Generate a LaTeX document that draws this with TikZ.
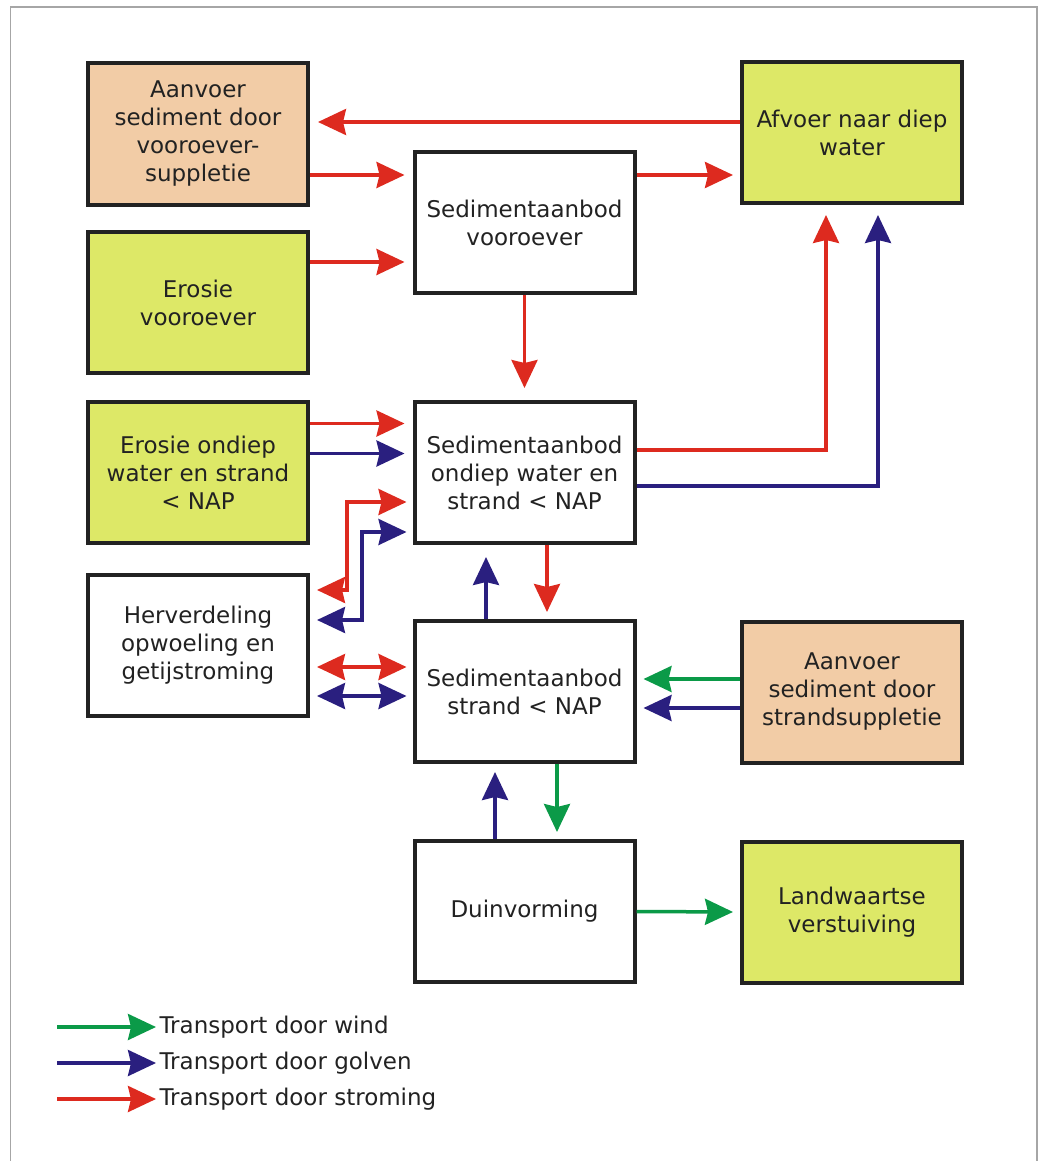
\documentclass[tikz,border=0pt]{standalone}
\usepackage{fontspec}
\setmainfont{DejaVu Sans}
\usetikzlibrary{arrows.meta}
\definecolor{rood}{HTML}{DD2A1F}
\definecolor{blauw}{HTML}{2A1F7F}
\definecolor{groen}{HTML}{0B9A48}
\definecolor{limoen}{HTML}{DDE867}
\definecolor{zalm}{HTML}{F2CCA6}
\definecolor{tekst}{HTML}{222222}
\tikzstyle{bag} = [draw=tekst, line width=4pt, minimum width=220pt, minimum height=141pt, align=center, text=tekst, font=\fontsize{23}{28}\selectfont]
\tikzstyle{nat} = [bag, fill=limoen]
\tikzstyle{aanv} = [bag, fill=zalm]
\tikzstyle{leg} = [anchor=west, text=tekst, font=\fontsize{23}{28}\selectfont]
\tikzstyle{wind} = [draw=groen, line width=3.5pt]
\tikzstyle{golven} = [draw=blauw, line width=3.5pt]
\tikzstyle{stroming} = [draw=rood, line width=3.5pt]

\begin{document}
\begin{tikzpicture}[x=1pt, y=-1pt, >={Stealth[length=28pt,width=26pt,inset=3pt]}]
  \useasboundingbox (0,0) rectangle (1040,1161);
  \draw [black!35, line width=1.5pt] (10.5,1161) -- (10.5,7) -- (1037,7) -- (1037,1161);

  \node (a) at (198,134) [aanv] {Aanvoer\\sediment door\\vooroever-\\suppletie};
  \node (b) at (852,132.5) [nat] {Afvoer naar diep\\water};
  \node (c) at (524.5,222.5) [bag] {Sedimentaanbod\\vooroever};
  \node (d) at (198,302.5) [nat] {Erosie\\vooroever};
  \node (e) at (198,472.5) [nat] {Erosie ondiep\\water en strand\\< NAP};
  \node (f) at (524.5,472.5) [bag] {Sedimentaanbod\\ondiep water en\\strand < NAP};
  \node (g) at (198,645.5) [bag] {Herverdeling\\opwoeling en\\getijstroming};
  \node (h) at (524.5,691.5) [bag] {Sedimentaanbod\\strand < NAP};
  \node (i) at (852,692) [aanv] {Aanvoer\\sediment door\\strandsuppletie};
  \node (j) at (524.5,911.5) [bag] {Duinvorming};
  \node (k) at (852,912) [nat] {Landwaartse\\verstuiving};

  \draw [stroming, ->, shorten >=8pt] ([yshift=10.5pt]b.west) -- ([yshift=10.5pt]b.west -| a.east);
  \draw [stroming, ->, shorten >=8pt] ([yshift=-41pt]a.east) -- ([yshift=-41pt]a.east -| c.west);
  \draw [stroming, ->, shorten >=7pt] ([yshift=47.5pt]c.east) -- ([yshift=47.5pt]c.east -| b.west);
  \draw [stroming, ->, shorten >=8pt] ([yshift=40.5pt]d.east) -- ([yshift=40.5pt]d.east -| c.west);
  \draw [stroming, ->, shorten >=12pt] (c.south) -- (f.north);
  \draw [stroming, ->, shorten >=8pt] ([yshift=49pt]e.east) -- ([yshift=49pt]e.east -| f.west);
  \draw [golven, ->, shorten >=8pt] ([yshift=19pt]e.east) -- ([yshift=19pt]e.east -| f.west);
  \draw [stroming, ->, shorten >=10pt] ([yshift=22.5pt]f.east) -| ([xshift=-26pt]b.south);
  \draw [golven, ->, shorten >=10pt] ([yshift=-13.5pt]f.east) -| ([xshift=26pt]b.south);
  \draw [stroming, <->, shorten <=6pt, shorten >=7pt] ([yshift=-29.5pt]f.west) -| ([xshift=37pt,yshift=55.5pt]g.east) -- ([yshift=55.5pt]g.east);
  \draw [golven, <->, shorten <=6pt, shorten >=7pt] ([yshift=-59.5pt]f.west) -| ([xshift=52pt,yshift=25.5pt]g.east) -- ([yshift=25.5pt]g.east);
  \draw [stroming, <->, shorten <=7pt, shorten >=6pt] ([yshift=-21.5pt]g.east) -- ([yshift=-21.5pt]g.east -| h.west);
  \draw [golven, <->, shorten <=7pt, shorten >=6pt] ([yshift=-50.5pt]g.east) -- ([yshift=-50.5pt]g.east -| h.west);
  \draw [golven, ->, shorten >=12pt] ([xshift=-38.5pt]h.north) -- ([xshift=-38.5pt]h.north |- f.south);
  \draw [stroming, ->, shorten >=7pt] ([xshift=22.5pt]f.south) -- ([xshift=22.5pt]f.south |- h.north);
  \draw [wind, ->, shorten >=7pt] ([yshift=13pt]i.west) -- ([yshift=13pt]i.west -| h.east);
  \draw [golven, ->, shorten >=7pt] ([yshift=-16pt]i.west) -- ([yshift=-16pt]i.west -| h.east);
  \draw [golven, ->, shorten >=8pt] ([xshift=-29.5pt]j.north) -- ([xshift=-29.5pt]j.north |- h.south);
  \draw [wind, ->, shorten >=7pt] ([xshift=32.5pt]h.south) -- ([xshift=32.5pt]h.south |- j.north);
  \draw [wind, ->, shorten >=7pt] (j.east) -- (k.west);

  \node (l1) at (156,1027) [leg] {Transport door wind};
  \node (l2) at (156,1063) [leg] {Transport door golven};
  \node (l3) at (156,1099) [leg] {Transport door stroming};
  \draw [wind, ->] ([xshift=-99pt]l1.west) -- (l1.west);
  \draw [golven, ->] ([xshift=-99pt]l2.west) -- (l2.west);
  \draw [stroming, ->] ([xshift=-99pt]l3.west) -- (l3.west);
\end{tikzpicture}
\end{document}
